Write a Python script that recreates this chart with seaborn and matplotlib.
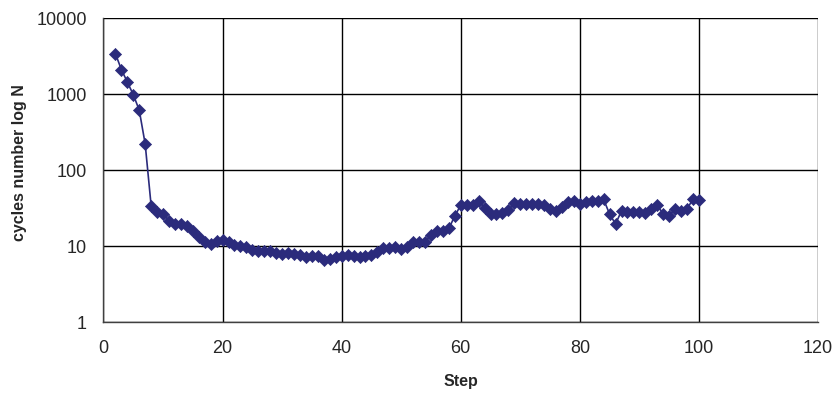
import matplotlib
matplotlib.use("Agg")
import matplotlib.pyplot as plt
import seaborn as sns
import pandas as pd
import numpy as np

steps = list(range(2, 101))
cycles = [3400, 2100, 1440, 980, 615, 220, 34, 28, 26.6, 21.5,
          19.6, 19.6, 18.5, 15.9, 13.2, 11.2, 10.6, 11.7, 12, 11.2,
          10.2, 10, 9.6, 8.8, 8.7, 8.7, 8.6, 8.1, 7.9, 8,
          7.9, 7.6, 7.2, 7.3, 7.3, 6.5, 6.7, 7.1, 7.3, 7.6,
          7.3, 7.2, 7.3, 7.6, 8.4, 9.3, 9.3, 9.6, 9.0, 9.6,
          11.4, 11.4, 11.4, 14, 15.9, 15.9, 17, 24.8, 34.6, 34.6,
          34.6, 39, 32, 26.3, 26.3, 27.4, 29.8, 36.4, 36, 36,
          36, 36, 35, 31, 29, 32.6, 38, 39, 35.6, 38,
          39, 39, 41, 26.3, 19.5, 29, 28, 28, 28, 27.4,
          31, 34.6, 26.3, 24.8, 31, 29, 31, 41, 40]
x_ticks = [0, 20, 40, 60, 80, 100, 120]
y_ticks = [1, 10, 100, 1000, 10000]
y_tick_labels = ["1", "10", "100", "1000", "10000"]

df = pd.DataFrame({"Step": steps, "N": cycles})

sns.set_style("white")
plt.rcParams['font.family'] = ['Liberation Sans', 'DejaVu Sans']

fig = plt.figure(figsize=(8.34, 3.94), dpi=100)
ax = fig.add_axes([0.1241, 0.1827, 0.9808 - 0.1241, 0.9543 - 0.1827])

color = "#2B2B7C"
sns.lineplot(data=df, x="Step", y="N", ax=ax, color=color, lw=1.2, zorder=3)
sns.scatterplot(data=df, x="Step", y="N", ax=ax, color=color, marker="D",
                s=38, edgecolor=color, linewidth=0.5, zorder=4)

ax.set_yscale("log")
ax.set_xlim(0, 120)
ax.set_ylim(1, 10000)
ax.set_xticks(x_ticks)
ax.set_yticks(y_ticks)
ax.set_yticklabels(y_tick_labels)
ax.minorticks_off()
ax.grid(True, which="major", color="black", lw=1.0)
ax.set_axisbelow(True)
for side in ["top", "right"]:
    ax.spines[side].set_visible(False)
for side in ["left", "bottom"]:
    ax.spines[side].set_color("#404040")
    ax.spines[side].set_linewidth(1.0)
ax.tick_params(axis="both", direction="out", length=5, width=1,
               color="#404040", labelsize=13)
ax.tick_params(axis="y", pad=7)
ax.tick_params(axis="x", pad=8)
ax.set_xlabel("Step", fontsize=11.5, fontweight="bold", labelpad=12)
ax.set_ylabel("cycles number log N", fontsize=11.5, fontweight="bold")
ax.yaxis.set_label_coords(-0.107, 0.526)

fig.savefig("out.png", dpi=100, facecolor="white")
